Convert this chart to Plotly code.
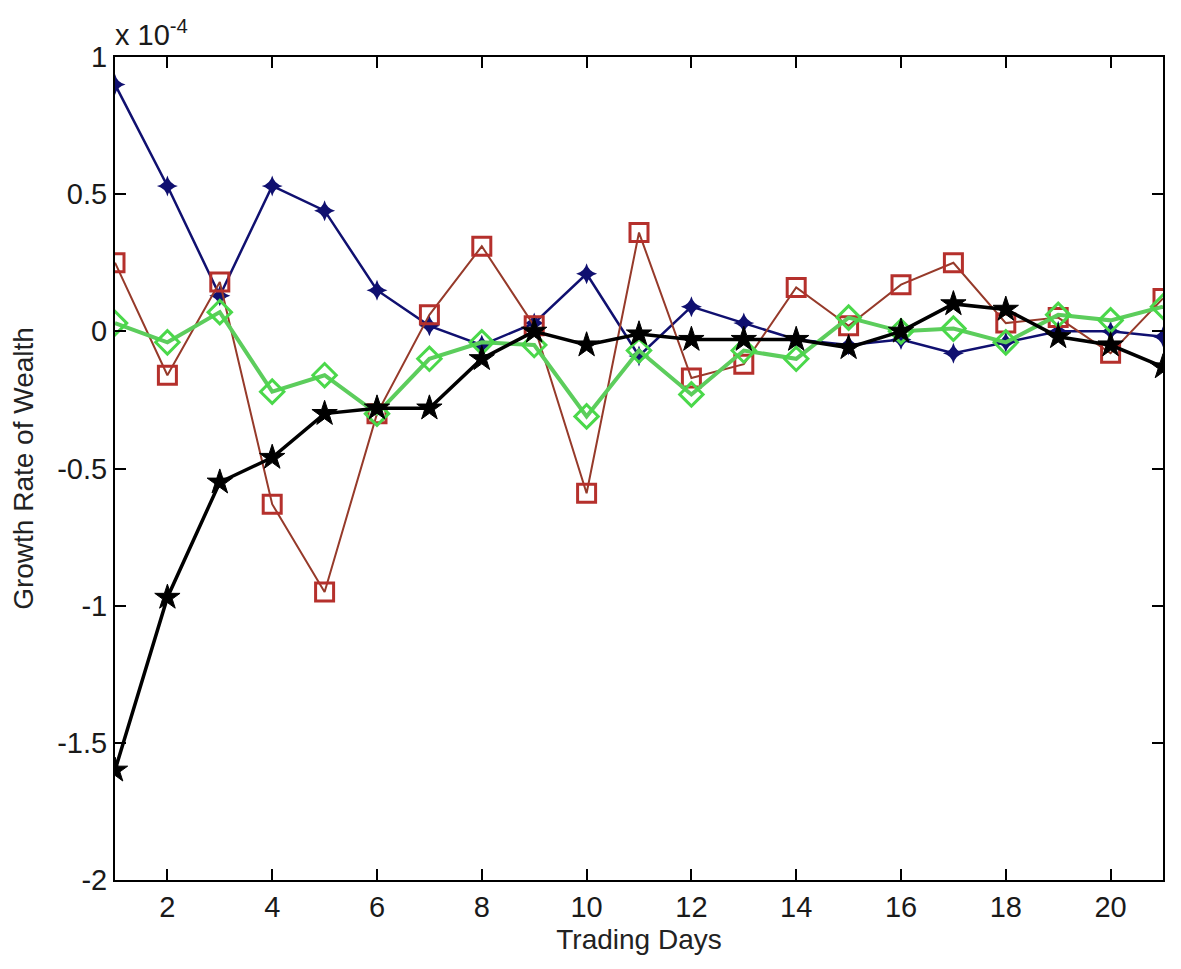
import plotly.graph_objects as go

days = list(range(1, 22))
blue = [0.90, 0.53, 0.13, 0.53, 0.44, 0.15, 0.02, -0.05, 0.03, 0.21, -0.09, 0.09, 0.03,
        -0.03, -0.05, -0.03, -0.08, -0.04, 0.00, 0.00, -0.02]
brown = [0.25, -0.16, 0.18, -0.63, -0.95, -0.30, 0.06, 0.31, 0.02, -0.59, 0.36, -0.17, -0.12,
         0.16, 0.02, 0.17, 0.25, 0.03, 0.05, -0.08, 0.12]
green = [0.03, -0.04, 0.07, -0.22, -0.16, -0.30, -0.10, -0.04, -0.05, -0.31, -0.07, -0.23, -0.07,
         -0.10, 0.05, 0.00, 0.01, -0.04, 0.06, 0.04, 0.09]
black = [-1.60, -0.97, -0.55, -0.46, -0.30, -0.28, -0.28, -0.10, 0.00, -0.05, -0.01, -0.03, -0.03,
         -0.03, -0.06, 0.00, 0.10, 0.08, -0.02, -0.05, -0.13]

x_ticks = [2, 4, 6, 8, 10, 12, 14, 16, 18, 20]
y_ticks = [1, 0.5, 0, -0.5, -1, -1.5, -2]
y_tick_text = ["1", "0.5", "0", "-0.5", "-1", "-1.5", "-2"]

FONT = "Liberation Sans, Arial, sans-serif"

fig = go.Figure()
fig.add_trace(go.Scatter(x=days, y=blue, mode="lines+markers",
                         line=dict(color="#101070", width=2.5),
                         marker=dict(symbol="star-diamond", size=15, color="#101070")))
fig.add_trace(go.Scatter(x=days, y=brown, mode="lines+markers",
                         line=dict(color="#963a2a", width=2),
                         marker=dict(symbol="square-open", size=18, color="#b5302c",
                                     line=dict(width=3, color="#b5302c"))))
fig.add_trace(go.Scatter(x=days, y=green, mode="lines+markers",
                         line=dict(color="#5ccd5c", width=4),
                         marker=dict(symbol="diamond-open", size=18, color="#4ad84a",
                                     line=dict(width=3, color="#4ad84a"))))
fig.add_trace(go.Scatter(x=days, y=black, mode="lines+markers",
                         line=dict(color="black", width=3.5),
                         marker=dict(symbol="star", size=19, color="black",
                                     line=dict(width=1, color="black"))))

axis_common = dict(showline=True, linecolor="black", linewidth=2, mirror="ticks",
                   ticks="inside", ticklen=11, tickwidth=2, tickcolor="black",
                   showgrid=False, zeroline=False,
                   tickfont=dict(family=FONT, size=29, color="#1a1a1a"))

fig.update_xaxes(range=[1, 21], tickvals=x_ticks,
                 title=dict(text="Trading Days", standoff=8,
                            font=dict(family=FONT, size=28, color="#222")),
                 **axis_common)
fig.update_yaxes(range=[-2, 1], tickvals=y_ticks, ticktext=y_tick_text,
                 title=dict(text="Growth Rate of Wealth", standoff=22,
                            font=dict(family=FONT, size=28, color="#222")),
                 **axis_common)

fig.add_annotation(text="x 10<sup>-4</sup>", xref="paper", yref="paper", x=0, y=1,
                   xanchor="left", yanchor="bottom", showarrow=False, yshift=4, xshift=-2,
                   font=dict(family=FONT, size=29, color="#1a1a1a"))

fig.update_layout(width=1165, height=953, showlegend=False,
                  plot_bgcolor="white", paper_bgcolor="white",
                  margin=dict(l=107, r=8, t=49, b=81))

fig.write_html("out.html")
